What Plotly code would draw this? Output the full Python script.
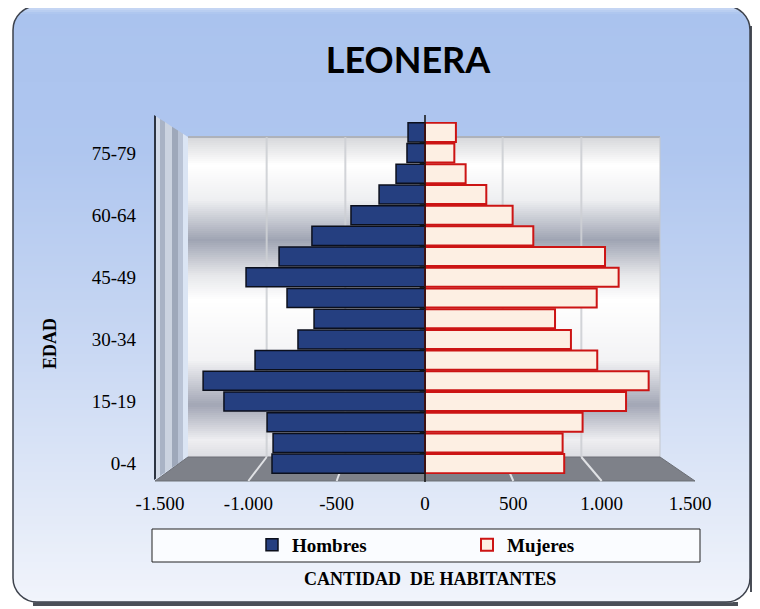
import math
import plotly.graph_objects as go

# ---------------- data ----------------
edades = ["0-4", "5-9", "10-14", "15-19", "20-24", "25-29", "30-34", "35-39",
          "40-44", "45-49", "50-54", "55-59", "60-64", "65-69", "70-74", "75-79", "80+"]
hombres = [866, 860, 894, 1138, 1256, 962, 719, 628, 781, 1013, 826, 640, 419, 260, 164, 102, 96]
mujeres = [788, 779, 892, 1138, 1266, 975, 826, 736, 972, 1096, 1019, 613, 496, 347, 230, 166, 175]
y_ticks = ["0-4", "15-19", "30-34", "45-49", "60-64", "75-79"]
x_ticks = [-1500, -1000, -500, 0, 500, 1000, 1500]
x_ticktext = ["-1.500", "-1.000", "-500", "0", "500", "1.000", "1.500"]

# the page body adds an 8px offset; design in page pixels, size figure accordingly
OFF = 8
W, H = 760 - OFF, 609 - OFF
PL, PR, PT, PB = 160, 690, 122, 474          # plot area in page pixels
ML, MR, MT, MB = PL - OFF, W - (PR - OFF), PT - OFF, H - (PB - OFF)
PW, PH = PR - PL, PB - PT


def px(x):
    return (x - PL) / PW


def py(y):
    return (PB - y) / PH


def hexc(c):
    c = c.lstrip("#")
    return [int(c[i:i + 2], 16) for i in (0, 2, 4)]


def interp(stops, y):
    for (y0, c0), (y1, c1) in zip(stops[:-1], stops[1:]):
        if y0 <= y <= y1:
            t = (y - y0) / (y1 - y0) if y1 > y0 else 0
            a, b = hexc(c0), hexc(c1)
            return "rgb(%d,%d,%d)" % tuple(round(a[i] + (b[i] - a[i]) * t) for i in range(3))
    return stops[-1][1]


shapes = []

# ---- card background (rounded, gradient) ----
cx0, cx1, cy0, cy1, R = 13, 750, 6, 602, 24
shapes.append(dict(type="path", xref="paper", yref="paper", layer="below",
                   path="M%f,%f L%f,%f" % (px(cx1 + 2), py(cy0 + 20), px(cx1 + 2), py(cy1 - 10)),
                   line=dict(color="#4b4f57", width=4)))
shapes.append(dict(type="path", xref="paper", yref="paper", layer="below",
                   path="M%f,%f L%f,%f" % (px(cx0 + 20), py(cy1 + 2), px(cx1 - 12), py(cy1 + 2)),
                   line=dict(color="#4b4f57", width=4)))
card_stops = [(cy0, "#d3e0f6"), (cy0 + 8, "#aac3ee"), (150, "#afc6ef"),
              (350, "#c9d8f3"), (cy1, "#f1f4fb")]
y = cy0
while y < cy1:
    y2 = min(y + 2, cy1)
    ym = (y + y2) / 2
    d = min(ym - cy0, cy1 - ym)
    inset = 0
    if d < R:
        inset = R - math.sqrt(max(R * R - (R - d) ** 2, 0))
    shapes.append(dict(type="rect", xref="paper", yref="paper", layer="below",
                       x0=px(cx0 + inset), x1=px(cx1 - inset), y0=py(y2 + 0.3), y1=py(y),
                       fillcolor=interp(card_stops, ym), line=dict(width=0)))
    y = y2


def rounded_path(x0, y0, x1, y1, r):
    k = 0.55 * r
    p = [
        "M%f,%f" % (px(x0 + r), py(y0)),
        "L%f,%f" % (px(x1 - r), py(y0)),
        "C%f,%f %f,%f %f,%f" % (px(x1 - r + k), py(y0), px(x1), py(y0 + r - k), px(x1), py(y0 + r)),
        "L%f,%f" % (px(x1), py(y1 - r)),
        "C%f,%f %f,%f %f,%f" % (px(x1), py(y1 - r + k), px(x1 - r + k), py(y1), px(x1 - r), py(y1)),
        "L%f,%f" % (px(x0 + r), py(y1)),
        "C%f,%f %f,%f %f,%f" % (px(x0 + r - k), py(y1), px(x0), py(y1 - r + k), px(x0), py(y1 - r)),
        "L%f,%f" % (px(x0), py(y0 + r)),
        "C%f,%f %f,%f %f,%f" % (px(x0), py(y0 + r - k), px(x0 + r - k), py(y0), px(x0 + r), py(y0)),
        "Z",
    ]
    return " ".join(p)


shapes.append(dict(type="path", xref="paper", yref="paper", layer="below",
                   path=rounded_path(cx0, cy0, cx1, cy1, R),
                   line=dict(color="#3d424c", width=1.5)))

# ---- 3D chart box ----
bx0, bx1, by0, by1 = 188, 660, 137, 457     # back wall
fx0, fx1, fy = 155, 695, 481                # floor front
wall_stops = [(by0, "#d6d7da"), (165, "#ffffff"), (200, "#eeeff1"), (240, "#9fa4b3"),
              (275, "#e6e7ea"), (300, "#ffffff"), (360, "#f3f3f5"), (405, "#a2a6b5"),
              (440, "#eeeef1"), (by1, "#dcdde2")]
y = by0
while y < by1:
    y2 = min(y + 2, by1)
    shapes.append(dict(type="rect", xref="paper", yref="paper", layer="below",
                       x0=px(bx0), x1=px(bx1), y0=py(y2 + 0.3), y1=py(y),
                       fillcolor=interp(wall_stops, (y + y2) / 2), line=dict(width=0)))
    y = y2
shapes.append(dict(type="line", xref="paper", yref="paper", layer="below",
                   x0=px(bx0), x1=px(bx1), y0=py(by0), y1=py(by0),
                   line=dict(color="#aeb2ba", width=2)))
shapes.append(dict(type="line", xref="paper", yref="paper", layer="below",
                   x0=px(bx1), x1=px(bx1), y0=py(by0), y1=py(by1),
                   line=dict(color="#c4c7cd", width=1)))

sx0, sy_top, sy_bot = 154, 115, 480
stripes = [(154, 156, "#2c3442"), (156, 160, "#d2dae8"), (160, 165, "#a9b3c5"),
           (165, 172, "#cbd3e0"), (172, 178, "#9ea8ba"), (178, 183, "#b9c3d5"),
           (183, 188, "#dbe5f4")]


def wall_top(x):
    return sy_top + (x - sx0) * (by0 - sy_top) / (bx0 - sx0)


def wall_bot(x):
    return sy_bot - (x - sx0) * (sy_bot - by1) / (bx0 - sx0)


for a, b, col in stripes:
    path = "M%f,%f L%f,%f L%f,%f L%f,%f Z" % (
        px(a), py(wall_top(a)), px(b), py(wall_top(b)),
        px(b), py(wall_bot(b)), px(a), py(wall_bot(a)))
    shapes.append(dict(type="path", xref="paper", yref="paper", layer="below",
                       path=path, fillcolor=col, line=dict(width=0)))

shapes.append(dict(type="path", xref="paper", yref="paper", layer="below",
                   path="M%f,%f L%f,%f L%f,%f L%f,%f Z" % (
                       px(bx0), py(by1), px(bx1), py(by1), px(fx1), py(fy), px(fx0), py(fy)),
                   fillcolor="#7e8189", line=dict(color="#6c6f76", width=1)))

for v in [-1000, -500, 500, 1000]:
    xb = (bx0 + bx1) / 2 + v * (bx1 - bx0) / 3000
    xf = PL + (v + 1500) * PW / 3000
    shapes.append(dict(type="line", xref="paper", yref="paper", layer="below",
                       x0=px(xb), x1=px(xb), y0=py(by0), y1=py(by1),
                       line=dict(color="rgba(205,207,212,0.9)", width=2)))
    shapes.append(dict(type="line", xref="paper", yref="paper", layer="below",
                       x0=px(xb), x1=px(xf), y0=py(by1), y1=py(fy),
                       line=dict(color="rgba(235,236,240,0.9)", width=2)))

shapes.append(dict(type="line", xref="x", yref="paper", layer="above",
                   x0=0, x1=0, y0=py(115), y1=py(482),
                   line=dict(color="#111111", width=1.5)))
for i in range(len(edades) + 1):
    shapes.append(dict(type="line", xref="x", yref="y", layer="above",
                       x0=-30, x1=0, y0=i - 0.5, y1=i - 0.5,
                       line=dict(color="#111111", width=1)))

shapes.append(dict(type="rect", xref="paper", yref="paper", layer="below",
                   x0=px(152), x1=px(700), y0=py(562), y1=py(529),
                   fillcolor="#fafcff", line=dict(color="#222222", width=1)))

# ---------------- traces ----------------
fig = go.Figure()
fig.add_trace(go.Bar(
    y=edades, x=[-v for v in hombres], orientation="h", name="Hombres",
    marker=dict(color="#253f80", line=dict(color="#0b0f1c", width=1.5)),
    customdata=hombres, hovertemplate="%{y}: %{customdata}<extra>Hombres</extra>",
))
fig.add_trace(go.Bar(
    y=edades, x=mujeres, orientation="h", name="Mujeres",
    marker=dict(color="#fdefe3", line=dict(color="#cc1414", width=2)),
    hovertemplate="%{y}: %{x}<extra>Mujeres</extra>",
))

serif = "Liberation Serif, Times New Roman, serif"
fig.update_layout(
    width=W, height=H,
    margin=dict(l=ML, r=MR, t=MT, b=MB, autoexpand=False),
    paper_bgcolor="white", plot_bgcolor="rgba(0,0,0,0)",
    barmode="overlay", bargap=0.08,
    title=dict(text="<b>LEONERA</b>", x=(408 - OFF) / W, xanchor="center",
               y=1 - (60 - OFF) / H, yanchor="middle",
               font=dict(family="Lato, Open Sans, sans-serif", size=36, color="#000000")),
    xaxis=dict(range=[-1500, 1500], tickvals=x_ticks, ticktext=x_ticktext,
               showgrid=False, zeroline=False, showline=False, ticks="",
               tickfont=dict(family=serif, size=19, color="#000000"),
               ticklabelstandoff=16),
    yaxis=dict(type="category", categoryorder="array", categoryarray=edades,
               range=[-0.5, len(edades) - 0.5],
               tickvals=y_ticks, ticktext=y_ticks,
               showgrid=False, zeroline=False, showline=False, ticks="",
               tickfont=dict(family=serif, size=19, color="#000000"),
               ticklabelstandoff=23),
    legend=dict(orientation="h", xref="container", yref="container",
                x=(252 - OFF) / W, xanchor="left", y=1 - (545 - OFF) / H, yanchor="middle",
                bgcolor="rgba(0,0,0,0)", borderwidth=0, entrywidth=170,
                font=dict(family=serif, size=19, color="#000000", weight="bold"),
                traceorder="normal"),
    annotations=[
        dict(text="<b>CANTIDAD\u00a0 DE HABITANTES</b>", xref="paper", yref="paper",
             x=px(430), y=py(579), xanchor="center", yanchor="middle",
             showarrow=False, font=dict(family=serif, size=18, color="#000000")),
        dict(text="<b>EDAD</b>", xref="paper", yref="paper", textangle=-90,
             x=px(50), y=py(344), xanchor="center", yanchor="middle",
             showarrow=False, font=dict(family=serif, size=18, color="#000000")),
    ],
    shapes=shapes,
    showlegend=True,
)

fig.write_html("out.html")
